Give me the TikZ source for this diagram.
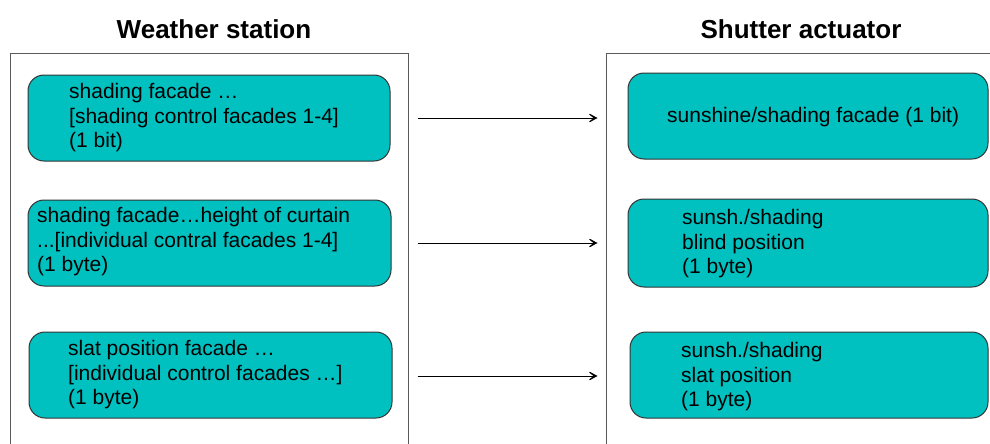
\documentclass[tikz,border=0pt]{standalone}
\usepackage{fontspec}
\setmainfont{Liberation Sans}
\usetikzlibrary{arrows.meta}
\definecolor{tealfill}{RGB}{0,192,192}
\definecolor{framegray}{RGB}{90,90,90}
\begin{document}
\begin{tikzpicture}[x=1pt,y=-1pt,
  frameline/.style={draw=framegray,line width=0.9pt},
  databox/.style={draw=black!80,line width=1pt,fill=tealfill,rounded corners=16pt,inner sep=0pt},
  boxtext/.style={anchor=west,align=left,inner sep=0pt,font=\fontsize{21}{24.5}\selectfont},
  title/.style={font=\fontsize{26}{30}\selectfont\bfseries,inner sep=0pt},
  flow/.style={draw=black,line width=0.9pt,-{Stealth[length=12pt,width=13pt,inset=8pt]}}]
\useasboundingbox (0,0) rectangle (990,444);
% titles
\node[title] (tws) at (214,29) {Weather station};
\node[title] (tsa) at (801,29) {Shutter actuator};
% frames
\draw[frameline] (10,446) -- (10,53) -- (408,53) -- (408,446);
\draw[frameline] (992,53) -- (606,53) -- (606,446);
% left boxes
\node[databox,minimum width=362pt,minimum height=86pt] (L1) at (209,118) {};
\node[databox,minimum width=363pt,minimum height=86pt] (L2) at (209.5,243) {};
\node[databox,minimum width=363pt,minimum height=86pt] (L3) at (210.5,375) {};
% right boxes
\node[databox,minimum width=360pt,minimum height=86pt] (R1) at (808,116) {};
\node[databox,minimum width=360pt,minimum height=88pt] (R2) at (808,243) {};
\node[databox,minimum width=358pt,minimum height=86pt] (R3) at (809,375) {};
% texts
\node[boxtext] (tL1) at (69,118) {shading facade …\\{[}shading control facades 1-4{]}\\(1 bit)};
\node[boxtext] (tL2) at (37,242) {shading facade…height of curtain\\...{[}individual contral facades 1-4{]}\\(1 byte)};
\node[boxtext] (tL3) at (68,375) {slat position facade …\\{[}individual control facades …{]}\\(1 byte)};
\node[boxtext] (tR1) at (667,117) {sunshine/shading facade (1 bit)};
\node[boxtext] (tR2) at (682,244) {sunsh./shading\\blind position\\(1 byte)};
\node[boxtext] (tR3) at (681,377) {sunsh./shading\\slat position\\(1 byte)};
% arrows
\draw[flow] ([xshift=27pt]L1.east) -- ([xshift=-30pt]L1.east -| R1.west);
\draw[flow] ([xshift=26pt]L2.east) -- ([xshift=-30pt]L2.east -| R2.west);
\draw[flow] ([xshift=25pt,yshift=-1pt]L3.east) -- ([xshift=-32pt,yshift=-1pt]L3.east -| R3.west);
\end{tikzpicture}
\end{document}
